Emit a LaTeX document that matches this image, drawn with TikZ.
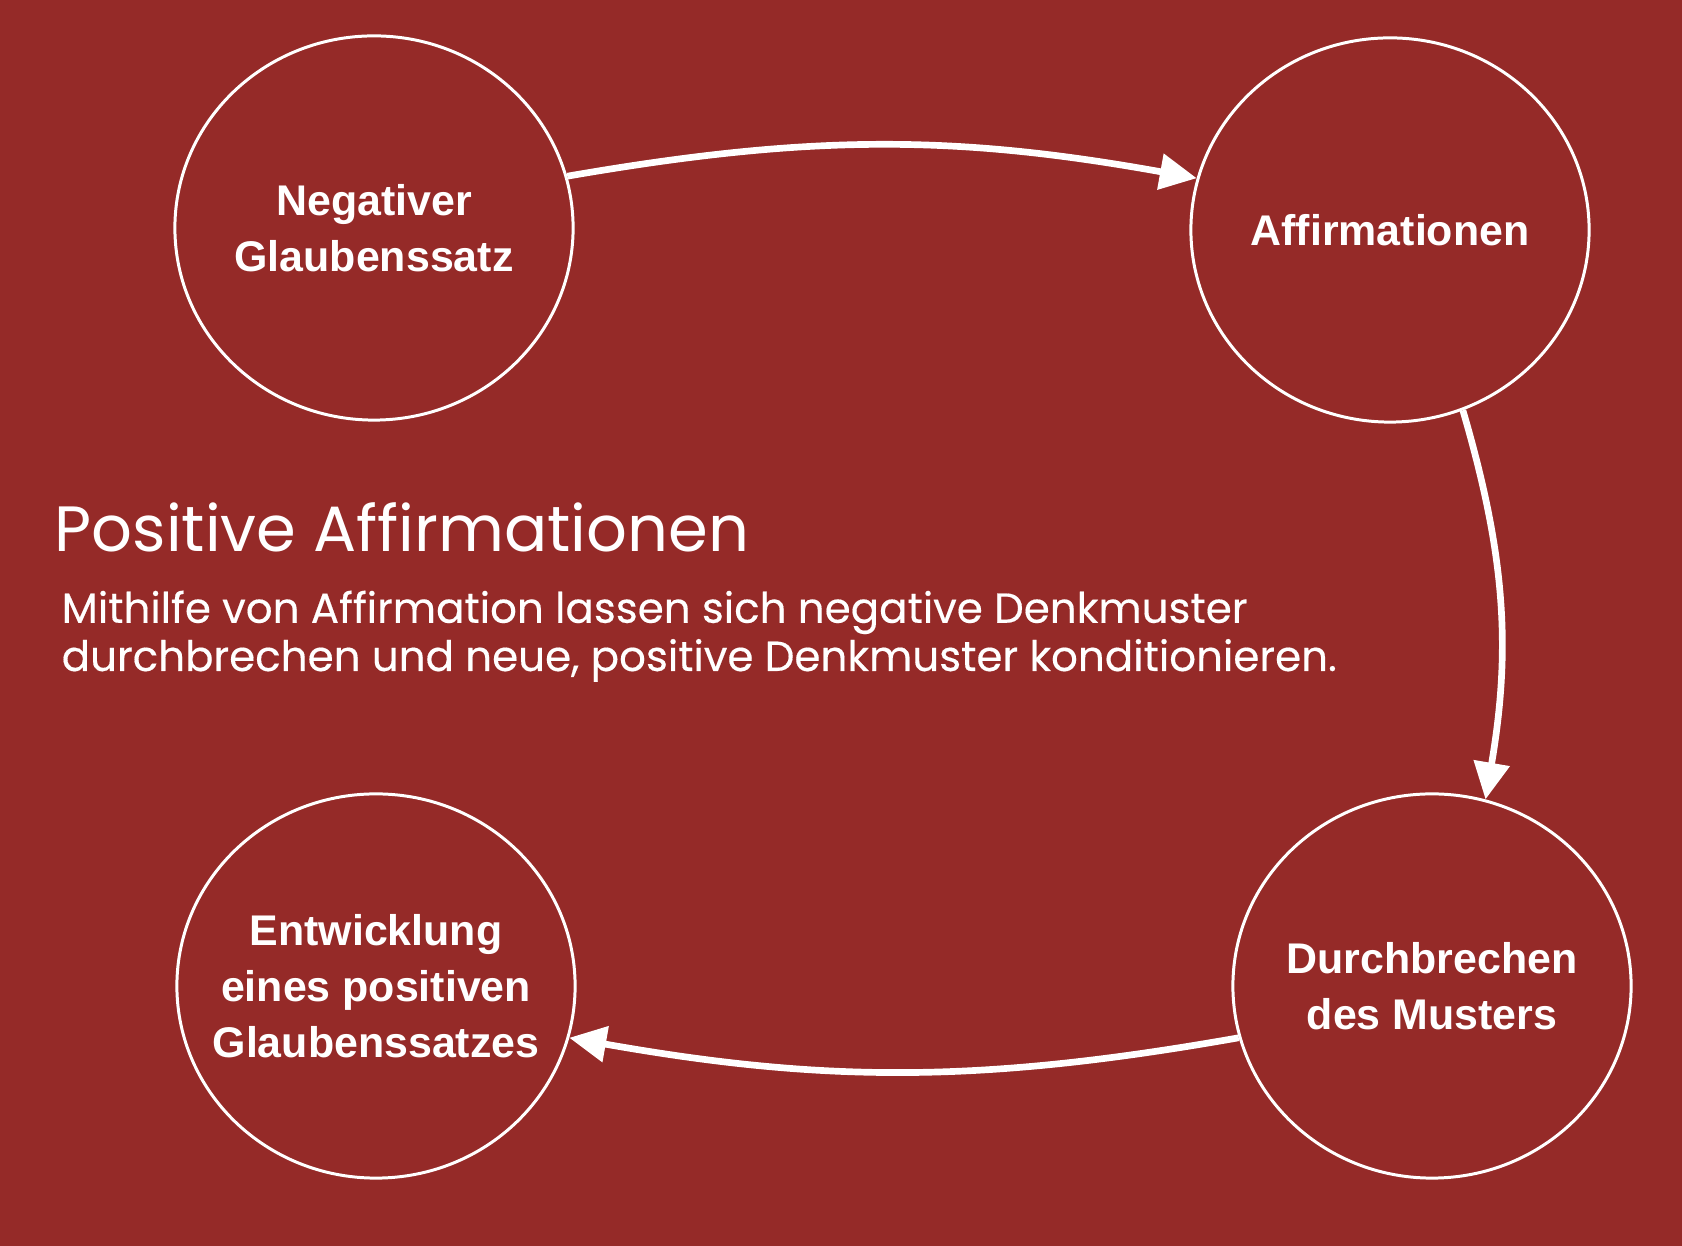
\documentclass[tikz,border=0pt]{standalone}
\usepackage{fontspec}
\setmainfont{Liberation Sans}
\newfontfamily\bodyfont{Poppins}
\newfontfamily\bodyfontb{Poppins}[FakeBold=0.35]
\usetikzlibrary{positioning,arrows.meta,shapes.geometric}
\definecolor{slidebg}{RGB}{149,42,40}
\tikzset{
  ring/.style  = {draw=white, line width=0.85pt, ellipse, minimum width=3.98cm,
                  minimum height=3.84cm, inner xsep=-14pt, inner ysep=0pt,
                  align=center, text=white,
                  font=\fontsize{12.2}{15.9}\selectfont\bfseries},
  flow/.style  = {draw=white, line width=1.9pt,
                  -{Triangle[length=10.5pt,width=10pt]}},
  ttl/.style   = {text=white, inner sep=0pt, font=\bodyfont\fontsize{18.2}{22}\selectfont},
  txt/.style   = {text=white, inner sep=0pt, align=left,
                  font=\bodyfontb\fontsize{11.95}{13.7}\selectfont},
}

\begin{document}
\begin{tikzpicture}[x=0.01cm,y=0.01cm]
  \fill[slidebg] (0,0) rectangle (1682,1246);
  \useasboundingbox (0,0) rectangle (1682,1246);
  % the four stages
  \node[ring] (neg) at (374,1018) {Negativer\\Glaubenssatz};
  \node[ring] (aff) at (1390,1016) {Affirmationen};
  \node[ring] (brk) at (1432,260) {Durchbrechen\\des Musters};
  \node[ring] (pos) at (376,260) {Entwicklung\\eines positiven\\Glaubenssatzes};
  % cycle
  \draw[flow] (neg.15) to[bend left=10] (aff.165);
  \draw[flow] (aff.292) to[bend left=13] (brk.74);
  \draw[flow] (brk.195) to[bend left=10] (pos.345);
  % caption
  \node[ttl, anchor=base west] (title) at (54,694) {Positive Affirmationen};
  \node[txt, anchor=north west] (body) at (61,656)
    {Mithilfe von Affirmation lassen sich negative Denkmuster\\
     durchbrechen und neue, positive Denkmuster konditionieren.};
\end{tikzpicture}
\end{document}
